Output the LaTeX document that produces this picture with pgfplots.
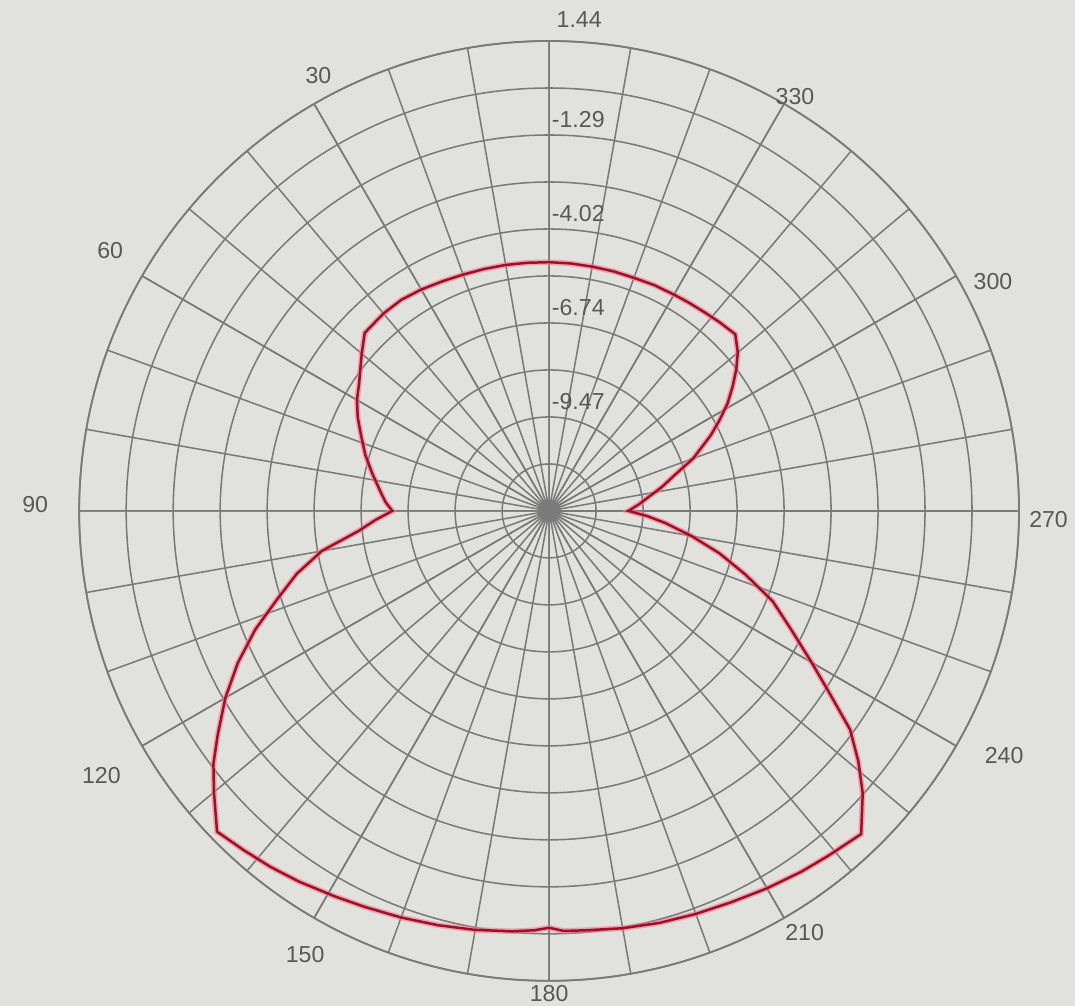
\documentclass[border=0pt]{standalone}
\usepackage{pgfplots}
\pgfplotsset{compat=1.18}
\usepackage{pgfplotstable}
\usepgfplotslibrary{polar}
\usepackage{fontspec}
\setmainfont{Liberation Sans}
\definecolor{bg}{RGB}{225,225,222}
\definecolor{gridc}{RGB}{122,122,122}
\definecolor{lab}{RGB}{88,88,88}
\definecolor{curve}{RGB}{160,15,40}
\definecolor{halo}{RGB}{238,125,140}

% theta: angle of the reference (0 at top, counter-clockwise), db: level
\pgfplotstableread{
theta db
0 -4.98
5 -4.97
10 -4.95
15 -4.93
20 -4.90
25 -4.85
30 -4.78
35 -4.72
40 -4.72
46 -4.76
50 -5.10
53 -5.34
56 -5.55
60 -5.76
64 -6.02
68 -6.31
73 -6.62
78 -6.95
84 -7.30
87 -7.45
90 -7.65
93 -7.15
96 -6.64
100 -5.50
104 -4.65
108 -3.90
112 -3.00
116 -2.15
120 -1.35
124 -0.60
127 0.00
130 0.50
134 1.20
138 1.05
142 0.92
146 0.78
151 0.60
155 0.48
160 0.36
165 0.25
170 0.15
175 0.05
178 -0.02
180 -0.10
182 0.00
185 0.02
190 0.10
195 0.18
200 0.25
205 0.33
210 0.45
215 0.58
219 0.68
224 0.84
228 0.05
231 -0.65
234 -1.40
237 -2.50
240 -3.40
244 -4.40
248 -5.20
252 -6.20
256 -7.10
260 -8.00
264 -8.80
267 -9.35
270 -9.90
274 -9.60
278 -9.28
282 -8.85
286 -8.40
290 -7.75
295 -7.03
298 -6.60
301 -6.16
304 -5.78
307 -5.40
310 -5.05
313.5 -4.75
318 -4.82
322 -4.88
326 -4.92
330 -4.95
335 -4.97
340 -5.00
345 -5.00
350 -5.00
355 -4.99
360 -4.98
}\radpattern

\begin{document}
\begin{tikzpicture}
\fill[bg] (-8.18cm,-7.372cm) rectangle (7.834cm,7.611cm);
\begin{polaraxis}[
  at={(0,0)}, anchor=center,
  scale only axis, width=14cm, height=14cm,
  ymin=0, ymax=13.64,
  xtick={0,30,...,330}, minor xtick={0,10,...,350},
  ytick={1.364,2.728,4.092,5.456,6.82,8.184,9.548,10.912,12.276,13.64},
  xticklabels={}, yticklabels={},
  grid=both,
  major grid style={gridc, line width=0.65pt},
  minor grid style={gridc, line width=0.65pt},
  major tick length=0pt, minor tick length=0pt,
  axis line style={gridc, line width=0.75pt},
  clip=false,
  font=\fontsize{9.8}{11}\selectfont,
]
\addplot[halo, line width=2.4pt, opacity=0.6, no markers]
  table[x expr={mod(\thisrow{theta}+90,360)}, y expr={\thisrow{db}+12.2}] {\radpattern};
\addplot[curve, line width=1.05pt, no markers]
  table[x expr={mod(\thisrow{theta}+90,360)}, y expr={\thisrow{db}+12.2}] {\radpattern};

% angle labels (reference angle = plot angle - 90)
\begin{scope}[every node/.style={lab, inner sep=1pt}]
\node at (axis cs:117.9,14.31) {30};
\node at (axis cs:149.3,14.82) {60};
\node at (axis cs:179.3,14.92) {90};
\node at (axis cs:210.6,15.1) {120};
\node at (axis cs:241.2,14.70) {150};
\node at (axis cs:270,14.0) {180};
\node at (axis cs:301.2,14.32) {210};
\node at (axis cs:331.7,15.0) {240};
\node at (axis cs:359,14.5) {270};
\node at (axis cs:27.3,14.50) {300};
\node at (axis cs:59.3,13.98) {330};
\end{scope}
% radial labels
\node[lab, anchor=south west, inner sep=1pt, xshift=2pt, yshift=4.5pt] at (axis cs:90,13.64) {1.44};
\node[lab, anchor=south west, inner sep=1pt, yshift=2pt] at (axis cs:90,10.912) {-1.29};
\node[lab, anchor=south west, inner sep=1pt, yshift=2pt] at (axis cs:90,8.184) {-4.02};
\node[lab, anchor=south west, inner sep=1pt, yshift=2pt] at (axis cs:90,5.456) {-6.74};
\node[lab, anchor=south west, inner sep=1pt, yshift=2pt] at (axis cs:90,2.728) {-9.47};
\end{polaraxis}
\end{tikzpicture}
\end{document}
